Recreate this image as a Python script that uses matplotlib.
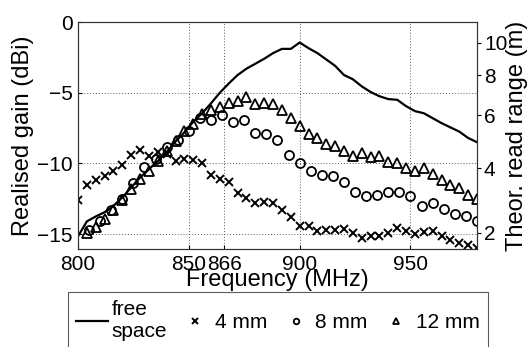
import numpy as np
import matplotlib
matplotlib.use("Agg")
import matplotlib.pyplot as plt
from matplotlib.lines import Line2D

plt.rcParams['font.family'] = ['Liberation Sans', 'DejaVu Sans']

# frequency sweeps (MHz)
freq_4 = np.arange(800, 981, 4)
freq_8 = np.arange(805, 981, 5)
freq_12 = np.arange(804, 981, 4)
freq_free = np.arange(800, 981, 4)

gain_free = [-15.15, -14.1, -13.75, -13.45, -13.0, -12.4, -11.7, -11.0, -10.4, -9.85,
             -9.2, -8.45, -7.8, -7.05, -6.45, -5.75, -5.0, -4.35, -3.75, -3.3,
             -2.95, -2.6, -2.2, -1.9, -1.9, -1.45, -1.85, -2.2, -2.65, -3.1,
             -3.75, -4.05, -4.55, -4.95, -5.25, -5.45, -5.5, -5.95, -6.3, -6.45,
             -6.8, -7.15, -7.45, -7.75, -8.2, -8.5]
gain_4mm = [-12.6, -11.5, -11.15, -10.9, -10.5, -10.1, -9.4, -9.05, -9.5, -9.2,
            -9.35, -9.85, -9.7, -9.75, -10.0, -10.8, -11.1, -11.3, -12.1, -12.45,
            -12.8, -12.75, -12.8, -13.3, -13.8, -14.4, -14.45, -14.8, -14.7, -14.7,
            -14.65, -14.95, -15.25, -15.15, -15.15, -14.95, -14.55, -14.8, -15.0, -14.85,
            -14.8, -15.15, -15.4, -15.65, -15.8, -15.95]
gain_8mm = [-14.7, -14.05, -13.3, -12.5, -11.4, -10.25, -9.7, -8.85, -8.35, -7.7,
            -6.8, -6.9, -6.55, -7.1, -6.95, -7.85, -7.9, -8.35, -9.4, -9.95,
            -10.5, -10.8, -10.9, -11.3, -12.05, -12.3, -12.2, -12.0, -12.05, -12.3,
            -13.0, -12.8, -13.2, -13.55, -13.75, -14.05]
gain_12mm = [-14.9, -14.5, -13.9, -13.3, -12.6, -11.8, -11.1, -10.5, -9.8, -9.1,
             -8.4, -7.7, -7.2, -6.5, -6.25, -6.0, -5.75, -5.6, -5.3, -5.8,
             -5.75, -5.8, -6.25, -6.8, -7.35, -7.9, -8.2, -8.65, -8.75, -9.15,
             -9.45, -9.25, -9.55, -9.5, -9.9, -10.0, -10.3, -10.55, -10.35, -10.75,
             -11.15, -11.5, -11.75, -12.25, -12.5]

x_ticks = [800, 850, 866, 900, 950]
y_ticks = [-15, -10, -5, 0]
range_ticks = [2, 4, 6, 8, 10]
range_tick_gain = [-14.91, -10.33, -6.58, -3.76, -1.48]  # where the read-range ticks sit on the gain scale

TICK_FS = 15
LABEL_FS = 17

fig = plt.figure(figsize=(5.31, 3.47), dpi=100)
ax = fig.add_axes([78 / 531, 1 - 249 / 347, 399 / 531, 227 / 347])

ax.plot(freq_free, gain_free, color='black', lw=1.6)
ax.plot(freq_4, gain_4mm, ls='none', marker='x', ms=5.5, mew=1.4, color='black')
ax.plot(freq_8, gain_8mm, ls='none', marker='o', ms=6.5, mew=1.3, mfc='none', color='black')
ax.plot(freq_12, gain_12mm, ls='none', marker='^', ms=7, mew=1.3, mfc='none', color='black')

ax.set_xlim(800, 980)
ax.set_ylim(-16.05, 0)
ax.set_xticks(x_ticks)
ax.set_yticks(y_ticks)
ax.grid(True, color='0.35', ls=(0, (1, 2)), lw=0.7)
ax.tick_params(direction='in', length=3, labelsize=TICK_FS, pad=4)
for s in ax.spines.values():
    s.set_linewidth(0.8)
    s.set_color('0.2')

ax.set_xlabel('Frequency (MHz)', fontsize=LABEL_FS, labelpad=-3)
ax.set_ylabel('Realised gain (dBi)', fontsize=LABEL_FS)
ax.yaxis.set_label_coords(-0.11, 0.5)

ax2 = ax.twinx()
ax2.set_ylim(ax.get_ylim())
ax2.set_yticks(range_tick_gain)
ax2.set_yticklabels([str(v) for v in range_ticks])
ax2.tick_params(direction='out', length=3, labelsize=TICK_FS, pad=2)
ax2.set_ylabel('Theor. read range (m)', fontsize=LABEL_FS)
ax2.yaxis.set_label_coords(1.072, 0.5)
for s in ax2.spines.values():
    s.set_linewidth(0.8)
    s.set_color('0.2')

handles = [
    Line2D([], [], color='black', lw=1.6),
    Line2D([], [], ls='none', marker='x', ms=4, mew=1.4, color='black'),
    Line2D([], [], ls='none', marker='o', ms=4, mew=1.3, mfc='none', color='black'),
    Line2D([], [], ls='none', marker='^', ms=4.5, mew=1.3, mfc='none', color='black'),
]
labels = ['free\nspace', '4 mm', '8 mm', '12 mm']
leg = fig.legend(handles, labels, loc='upper center', bbox_to_anchor=(278 / 531, 1 - 292 / 347),
                 ncol=4, fontsize=15, frameon=True, fancybox=False, edgecolor='0.2',
                 handlelength=1.5, handletextpad=0.2, columnspacing=0.6, borderpad=0.4,
                 borderaxespad=0, labelspacing=0.1)
leg.get_frame().set_linewidth(0.8)

fig.savefig('out.png', dpi=100)
